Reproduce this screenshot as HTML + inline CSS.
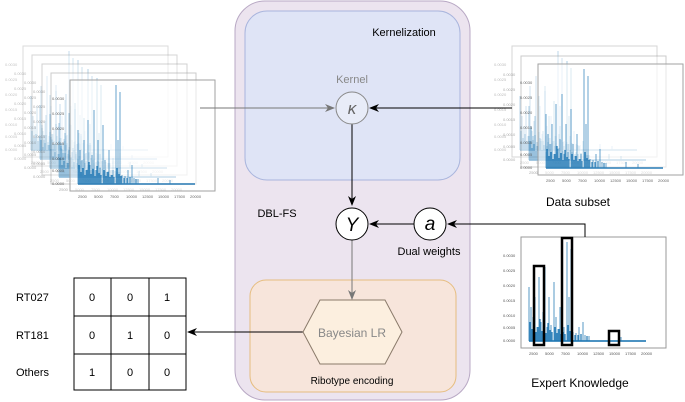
<!DOCTYPE html>
<html><head><meta charset="utf-8"><style>
html,body{margin:0;padding:0;background:#fff}
svg{display:block}
text{font-family:"Liberation Sans",sans-serif}
</style></head><body>
<svg width="685" height="402" viewBox="0 0 685 402" xmlns="http://www.w3.org/2000/svg">
<defs>
<marker id="ah" markerWidth="10" markerHeight="8" refX="9" refY="4" orient="auto" markerUnits="userSpaceOnUse">
<path d="M0,0 L10,4 L0,8 L3,4 Z" fill="#000"/></marker>
<marker id="ahg" markerWidth="10" markerHeight="8" refX="9" refY="4" orient="auto" markerUnits="userSpaceOnUse">
<path d="M0,0 L10,4 L0,8 L3,4 Z" fill="#777"/></marker>
<g id="chart">
<rect x="0" y="0" width="145" height="111" fill="#fff" fill-opacity="0.6" stroke="#999" stroke-width="1"/>
<g stroke="#1f77b4" stroke-width="1">
<path d="M8,104 V50 M10,104 V70 M12,104 V80 M14,104 V60 M16,104 V90 M18,104 V40 M20,104 V85 M22,104 V75 M24,104 V30 M26,104 V90 M28,104 V60 M30,104 V88 M33,104 V45 M35,104 V80 M37,104 V92 M39,104 V70 M41,104 V95 M43,104 V90 M46,104 V5 M48,104 V60 M50,104 V12 M52,104 V95 M55,104 V96 M58,104 V90 M62,104 V85 M64,104 V98 M68,104 V99 M88,104 V98 M100,104 V100" opacity="0.75"/>
<path d="M9,104 V85 M11,104 V92 M13,104 V88 M15,104 V95 M17,104 V90 M19,104 V82 M21,104 V94 M23,104 V89 M25,104 V96 M27,104 V86 M29,104 V93 M31,104 V95 M34,104 V90 M36,104 V96 M38,104 V92 M40,104 V97 M42,104 V95 M44,104 V97 M47,104 V88 M49,104 V94 M51,104 V96 M54,104 V98 M57,104 V98 M60,104 V97 M66,104 V99" stroke-width="1.2"/>
<path d="M8,104 H125" stroke-width="2" opacity="0.8"/>
</g>
<g font-size="4" fill="#555">
<text x="8" y="118">2500</text><text x="24" y="118">5000</text><text x="40" y="118">7500</text><text x="56" y="118">10000</text><text x="72" y="118">12500</text><text x="88" y="118">15000</text><text x="104" y="118">17500</text><text x="120" y="118">20000</text>
<text x="-18" y="20">0.0030</text><text x="-18" y="35">0.0025</text><text x="-18" y="50">0.0020</text><text x="-18" y="65">0.0015</text><text x="-18" y="80">0.0010</text><text x="-18" y="92">0.0005</text><text x="-18" y="105">0.0000</text>
</g>
</g>
</defs>

<!-- left stack -->
<g opacity="0.35"><use href="#chart" x="23" y="46"/></g>
<g opacity="0.4"><use href="#chart" x="32" y="55"/></g>
<g opacity="0.45"><use href="#chart" x="42" y="64"/></g>
<g opacity="0.5"><use href="#chart" x="51" y="73"/></g>
<g opacity="0.9"><use href="#chart" x="70" y="80"/></g>

<!-- right stack -->
<g opacity="0.4"><use href="#chart" x="512" y="46"/></g>
<g opacity="0.5"><use href="#chart" x="521" y="56"/></g>
<g opacity="0.9"><use href="#chart" x="538" y="64"/></g>
<text x="578" y="206" font-size="12" text-anchor="middle" fill="#000">Data subset</text>

<!-- expert chart -->
<use href="#chart" x="521" y="237"/>
<g fill="none" stroke="#000" stroke-width="2.5">
<rect x="534" y="266" width="10" height="79"/>
<rect x="562" y="238" width="10" height="107"/>
<rect x="609" y="331" width="10" height="14"/>
</g>
<text x="580" y="387" font-size="12" text-anchor="middle" fill="#000">Expert Knowledge</text>

<!-- outer DBL-FS -->
<rect x="235" y="1" width="235" height="399" rx="30" fill="#ece4ef" stroke="#b8a8c4" stroke-width="1"/>
<rect x="245" y="11" width="215" height="169" rx="22" fill="#dfe4f6" stroke="#a9b5dd" stroke-width="1"/>
<text x="404" y="36" font-size="11" text-anchor="middle">Kernelization</text>
<text x="277" y="217" font-size="11" text-anchor="middle">DBL-FS</text>
<rect x="250" y="280" width="206" height="112" rx="16" fill="#f7e5db" stroke="#e6bd7f" stroke-width="1"/>
<text x="352" y="384" font-size="10" text-anchor="middle">Ribotype encoding</text>

<!-- arrows -->
<line x1="200" y1="108" x2="334" y2="108" stroke="#777" stroke-width="1" marker-end="url(#ahg)"/>
<line x1="512" y1="108" x2="370" y2="108" stroke="#000" stroke-width="1" marker-end="url(#ah)"/>
<line x1="352" y1="124" x2="352" y2="205" stroke="#000" stroke-width="1" marker-end="url(#ah)"/>
<line x1="414" y1="224" x2="370" y2="224" stroke="#000" stroke-width="1" marker-end="url(#ah)"/>
<polyline points="585,237 585,224 448,224" fill="none" stroke="#000" stroke-width="1" marker-end="url(#ah)"/>
<line x1="352" y1="240" x2="352" y2="299" stroke="#777" stroke-width="1" marker-end="url(#ahg)"/>
<line x1="303" y1="332" x2="188" y2="332" stroke="#000" stroke-width="1" marker-end="url(#ah)"/>

<!-- nodes -->
<circle cx="352" cy="108" r="16" fill="#e8ecf8" stroke="#888" stroke-width="1"/>
<text x="352" y="114" font-size="17" font-style="italic" font-family="Liberation Serif" text-anchor="middle" fill="#666">κ</text>
<text x="352" y="83" font-size="11" text-anchor="middle" fill="#888">Kernel</text>
<circle cx="352" cy="224" r="16" fill="#fff" stroke="#000" stroke-width="1"/>
<text x="352" y="231" font-size="19" font-style="italic" font-family="Liberation Serif" text-anchor="middle">Y</text>
<circle cx="430" cy="224" r="16" fill="#fff" stroke="#000" stroke-width="1"/>
<text x="430" y="230" font-size="19" font-style="italic" font-family="Liberation Serif" text-anchor="middle">a</text>
<text x="429" y="255" font-size="11" text-anchor="middle">Dual weights</text>
<polygon points="303,332 320,300 385,300 402,332 385,364 320,364" fill="#fcefdf" stroke="#8a7a6a" stroke-width="1"/>
<text x="352" y="337" font-size="12" text-anchor="middle" fill="#888">Bayesian LR</text>

<!-- table -->
<g stroke="#000" stroke-width="1" fill="none">
<rect x="74" y="278" width="112" height="112"/>
<line x1="111" y1="278" x2="111" y2="390"/><line x1="149" y1="278" x2="149" y2="390"/>
<line x1="74" y1="316" x2="186" y2="316"/><line x1="74" y1="354" x2="186" y2="354"/>
</g>
<g font-size="11" text-anchor="middle">
<text x="92" y="301">0</text><text x="130" y="301">0</text><text x="167" y="301">1</text>
<text x="92" y="339">0</text><text x="130" y="339">1</text><text x="167" y="339">0</text>
<text x="92" y="376">1</text><text x="130" y="376">0</text><text x="167" y="376">0</text>
</g>
<g font-size="11">
<text x="16" y="301">RT027</text><text x="16" y="339">RT181</text><text x="16" y="376">Others</text>
</g>
</svg>
</body></html>
